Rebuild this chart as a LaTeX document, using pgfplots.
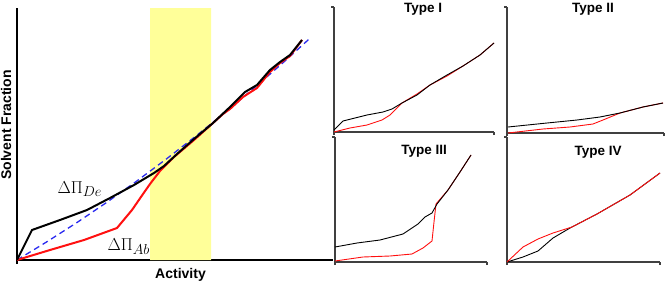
\documentclass[border=0pt]{standalone}
\usepackage{fontspec}
\setmainfont{Liberation Sans}
\usepackage{pgfplots}
\pgfplotsset{compat=1.18}
\definecolor{band}{HTML}{FFFF99}
\definecolor{axgray}{HTML}{404040}
\definecolor{curvered}{HTML}{FF1010}
\definecolor{dashblue}{HTML}{2A2AF0}

\pgfplotsset{
  panel/.style={
    scale only axis, clip=false,
    axis x line*=bottom, axis y line*=left,
    axis line style={axgray, line width=1.1pt},
    xmin=0, ymin=0,
    xticklabels={}, yticklabels={},
    tick style={axgray, line width=1.1pt},
    tick align=outside, major tick length=3pt,
    anchor=south west,
  },
}
\tikzset{
  blk/.style={black, line width=0.9pt},
  rd/.style={curvered, line width=0.9pt},
  ttl/.style={font=\fontsize{13.5}{15}\selectfont\bfseries},
}

\begin{document}
\begin{tikzpicture}
\path[use as bounding box] (0pt,0pt) rectangle (666pt,-284pt);

% main panel: desorption vs. absorption branches
\begin{axis}[
  at={(17pt,-260pt)}, anchor=south west,
  scale only axis, clip=false,
  width=316pt, height=252pt,
  xmin=0, xmax=316, ymin=0, ymax=252,
  axis x line*=bottom, axis y line*=left,
  axis line style={black, line width=2pt},
  xtick={0}, ytick=\empty, xticklabels={},
  tick style={black, line width=2pt},
  tick align=outside, major tick length=4pt,
]
\addplot[fill=band, draw=none] coordinates {(133,0) (194,0) (194,252) (133,252)} \closedcycle;
\addplot[dashblue, line width=1.3pt, dash pattern=on 6pt off 4pt] coordinates {
  (0,0) (30,18.3) (60,37.5) (90,57.8) (120,79.1) (150,101.5)
  (180,124.8) (210,149.1) (240,174.5) (270,200.8) (293,221.8)};
\addplot[curvered, line width=2pt] coordinates {
  (0,0) (33,10) (67,20) (100,32) (115,50) (126,66) (133,76) (143,89)
  (157,103) (177,120) (196,137) (206,146) (213,151) (226,163) (240,172)
  (253,188) (263,197) (273,204) (285,220)};
\addplot[black, line width=2pt] coordinates {
  (0,0) (15,30) (43,40) (70,50) (93,62) (117,75) (137,87) (147,94)
  (160,106) (177,121) (196,137) (213,153) (228,168) (240,175)
  (253,190) (263,198) (273,205) (285,220)};
\node[anchor=base west, font=\fontsize{19}{21}\selectfont] at (axis cs:37,67) {$\Delta\Pi_{De}$};
\node[anchor=base west, font=\fontsize{19}{21}\selectfont] at (axis cs:87,10) {$\Delta\Pi_{Ab}$};
\node[rotate=90, font=\fontsize{14}{16}\selectfont\bfseries] at (axis cs:-11,135) {Solvent Fraction};
\node[font=\fontsize{14}{16}\selectfont\bfseries] at (axis cs:163.5,-15) {Activity};
\end{axis}

% Type I
\begin{axis}[panel, at={(334pt,-132pt)}, width=160pt, height=125pt,
  xmax=160, ymax=125, xtick={0,160}, ytick={125}]
\addplot[rd] coordinates {(0,0) (16,4) (33,7) (48,12) (56,17) (68,29) (83,38) (96,47) (113,56) (129,66) (146,77) (160,89)};
\addplot[blk] coordinates {(0,2) (9,11) (33,17) (49,20) (58,23) (68,29) (83,37) (96,47) (113,57) (129,66) (146,77) (160,89)};
\node[ttl] at (axis cs:89,123) {Type I};
\end{axis}

% Type II
\begin{axis}[panel, at={(507pt,-133pt)}, width=157pt, height=126pt,
  xmax=157, ymax=126, xtick={0,157}, ytick={126}]
\addplot[rd] coordinates {(1,0) (36,4) (63,6) (86,9) (96,13) (113,20) (136,26) (156,30)};
\addplot[blk] coordinates {(1,6) (40,10) (70,13) (93,16) (113,20) (136,26) (156,30)};
\node[ttl] at (axis cs:86,124) {Type II};
\end{axis}

% Type III
\begin{axis}[panel, at={(335pt,-262pt)}, width=152pt, height=125pt,
  xmax=152, ymax=125, xtick={0,152}, ytick={125}]
\addplot[rd] coordinates {(0,1) (28,5) (55,6) (77,8) (88,14) (97,21) (99,40) (101,58) (113,72) (125,90) (136,107)};
\addplot[blk] coordinates {(0,15) (22,19) (45,22) (68,28) (83,38) (90,45) (97,49) (102,58) (113,72) (125,90) (136,107)};
\node[ttl] at (axis cs:89,111) {Type III};
\end{axis}

% Type IV
\begin{axis}[panel, at={(507pt,-262pt)}, width=153pt, height=125pt,
  xmax=153, ymax=125, xtick={0,153}, ytick={125}]
\addplot[blk] coordinates {(0,0) (16,5) (31,11) (46,24) (63,34) (90,48) (123,67) (153,89)};
\addplot[rd] coordinates {(0,0) (16,15) (31,23) (46,29) (65,35) (90,48) (123,67) (153,89)};
\node[ttl] at (axis cs:91,110) {Type IV};
\end{axis}
\end{tikzpicture}
\end{document}
